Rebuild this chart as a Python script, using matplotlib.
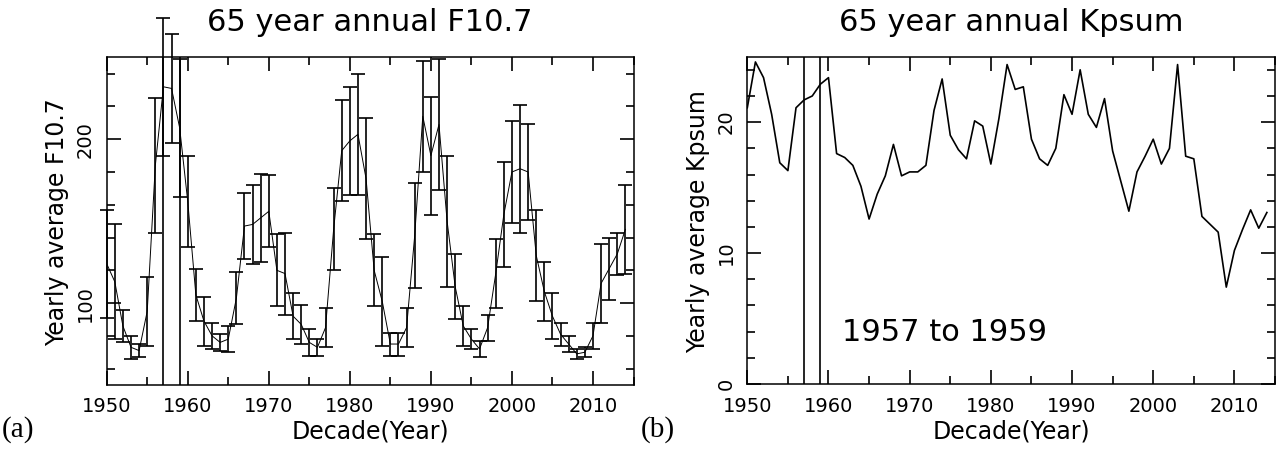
import numpy as np
import matplotlib
matplotlib.use("Agg")
import matplotlib.pyplot as plt
from matplotlib.ticker import MultipleLocator

# ---------------- data ----------------
years = list(range(1950, 2015))

f107_mean = [124, 113, 86, 73, 71, 95, 184, 232, 231, 207,
             162, 105, 89, 80, 76, 78, 103, 147, 148, 152,
             156, 120, 118, 92, 87, 76, 73, 85, 145, 193,
             199, 203, 176, 120, 101, 75, 75, 85, 141, 214,
             190, 209, 150, 110, 86, 78, 72, 85, 118, 154,
             180, 182, 180, 129, 107, 92, 81, 75, 69, 70,
             80, 112, 121, 130, 145]

f107_sigma = [33, 35, 10, 7, 4, 21, 41, 42, 33, 42,
              28, 16, 15, 8, 5, 8, 16, 20, 24, 27,
              22, 22, 25, 14, 12, 8, 5, 12, 25, 31,
              33, 37, 37, 22, 27, 7, 7, 12, 32, 34,
              36, 40, 40, 20, 12, 6, 5, 8, 21, 32,
              31, 39, 29, 28, 18, 14, 7, 5, 3, 3,
              8, 24, 19, 13, 27]

kpsum = [21.1, 24.6, 23.4, 20.6, 16.9, 16.3, 21.1, 21.7, 22.0, 22.9,
         23.4, 17.6, 17.3, 16.7, 15.1, 12.6, 14.5, 15.9, 18.3, 15.9,
         16.2, 16.2, 16.7, 20.9, 23.3, 19.0, 17.9, 17.2, 20.1, 19.7,
         16.8, 20.3, 24.4, 22.5, 22.7, 18.7, 17.2, 16.7, 18.0, 22.1,
         20.6, 24.0, 20.6, 19.6, 21.8, 17.8, 15.5, 13.2, 16.2, 17.4,
         18.7, 16.8, 18.0, 24.4, 17.4, 17.2, 12.8, 12.2, 11.6, 7.4,
         10.2, 11.8, 13.3, 11.9, 13.1]

marker_years = [1957, 1959]
x_ticks = [1950, 1960, 1970, 1980, 1990, 2000, 2010]

# ---------------- figure ----------------
W, H = 1278, 454
fig = plt.figure(figsize=(W / 100, H / 100), dpi=100)
plt.rcParams['font.family'] = ['DejaVu Sans']


def px_axes(l, t, r, b):
    return [l / W, 1 - b / H, (r - l) / W, (b - t) / H]


ax1 = fig.add_axes(px_axes(106.7, 57.3, 633.5, 385))
ax2 = fig.add_axes(px_axes(747.3, 56.7, 1275, 384))

LW = 1.1

# ---- panel (a) ----
ax1.plot(years, f107_mean, color='black', lw=0.7)
eb = ax1.errorbar(years, f107_mean, yerr=f107_sigma, fmt='none',
                  ecolor='black', elinewidth=1.2, capsize=5.2, capthick=1.2)
for art in eb.get_children():
    art.set_clip_on(False)
for my in marker_years:
    ax1.axvline(my, color='black', lw=1.2)
ax1.set_xlim(1950, 2015)
ax1.set_ylim(50, 250)
ax1.yaxis.set_major_locator(MultipleLocator(100))
ax1.yaxis.set_minor_locator(MultipleLocator(20))

# ---- panel (b) ----
ax2.plot(years, kpsum, color='black', lw=1.2)
for my in marker_years:
    ax2.axvline(my, color='black', lw=1.2)
ax2.set_xlim(1950, 2015)
ax2.set_ylim(0, 25)
ax2.yaxis.set_major_locator(MultipleLocator(10))
ax2.yaxis.set_minor_locator(MultipleLocator(2))
ax2.text(1961.7, 3.9, '1957 to 1959', fontsize=22, ha='left', va='center')

for ax in (ax1, ax2):
    ax.set_xticks(x_ticks)
    ax.xaxis.set_minor_locator(MultipleLocator(5))
    ax.tick_params(which='both', direction='in', top=True, right=True,
                   width=1.2, labelsize=14)
    ax.tick_params(which='major', length=10)
    ax.tick_params(which='minor', length=6)
    ax.tick_params(axis='x', pad=9)
    ax.tick_params(axis='y', pad=8.5, labelrotation=90)
    for lab in ax.get_yticklabels():
        lab.set_va('center')
    for sp in ax.spines.values():
        sp.set_linewidth(LW)

# ---- texts ----
fig.text(370 / W, 1 - 31 / H, '65 year annual F10.7', fontsize=22,
         ha='center', va='baseline')
fig.text(1011 / W, 1 - 31 / H, '65 year annual Kpsum', fontsize=22,
         ha='center', va='baseline')
fig.text(370 / W, 1 - 432 / H, 'Decade(Year)', fontsize=17,
         ha='center', va='center')
fig.text(1011 / W, 1 - 432 / H, 'Decade(Year)', fontsize=17,
         ha='center', va='center')
fig.text(57 / W, 1 - 222 / H, 'Yearly average F10.7', fontsize=17,
         ha='center', va='center', rotation=90)
fig.text(698 / W, 1 - 222 / H, 'Yearly average Kpsum', fontsize=17,
         ha='center', va='center', rotation=90)
fig.text(2 / W, 1 - 430 / H, '(a)', fontsize=21, family='Liberation Serif',
         ha='left', va='center')
fig.text(641 / W, 1 - 430 / H, '(b)', fontsize=21, family='Liberation Serif',
         ha='left', va='center')

fig.savefig('out.png', dpi=100)
